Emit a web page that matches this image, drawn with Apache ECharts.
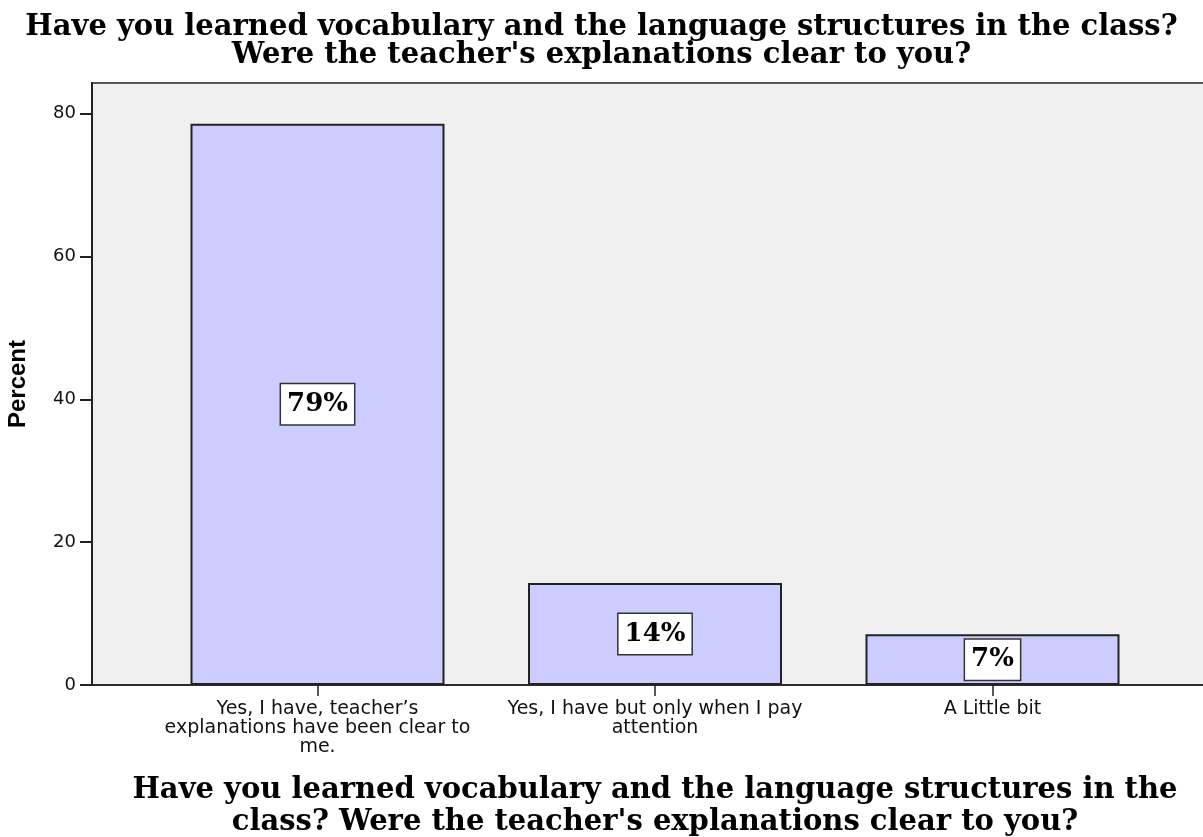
<!DOCTYPE html>
<html>
<head>
<meta charset="utf-8">
<title>Vocabulary survey</title>
<script src="https://cdn.jsdelivr.net/npm/echarts@6/dist/echarts.min.js"></script>
<style>
  html, body { margin: 0; padding: 0; background: #fff; }
  #main { width: 1203px; height: 837px; }
</style>
</head>
<body>
<div id="main"></div>
<script>
// data (n = 14 answers)
var categories = [
	"Yes, I have, teacher\u2019s\nexplanations have been clear to\nme.",
	"Yes, I have but only when I pay\nattention",
	"A Little bit"
];
var percents = [78.6, 14.3, 7.1];
var pctLabels = ["79%", "14%", "7%"];
var yTicks = [0, 20, 40, 60, 80];

var titleText = "Have you learned vocabulary and the language structures in the class?\nWere the teacher's explanations clear to you?";
var xName = "Have you learned vocabulary and the language structures in the\nclass? Were the teacher's explanations clear to you?";

var yMax = 84.3;   // top of the plot frame

var myChart = echarts.init(document.getElementById('main'));

var option = {
	backgroundColor: '#ffffff',
	animation: false,
	title: {
		text: titleText,
		left: 'center',
		top: 8,
		textStyle: {
			fontFamily: 'DejaVu Serif',
			fontWeight: 'bold',
			fontSize: 29,
			lineHeight: 28,
			color: '#000',
			align: 'center'
		}
	},
	grid: [
		// frame, background and y axis
		{ left: 92, right: -6, top: 83, bottom: 152, show: true, outerBoundsMode: 'none',
		  backgroundColor: '#f0f0f0', borderColor: '#555', borderWidth: 2 },
		// bars (SPSS leaves extra room on the left)
		{ left: 148.75, right: 41.75, top: 83, bottom: 152, outerBoundsMode: 'none' }
	],
	xAxis: [
		{
			gridIndex: 0, type: 'value', min: 0, max: 1,
			axisLine: { show: true, lineStyle: { color: '#222', width: 1.5 } },
			axisTick: { show: false },
			axisLabel: { show: false },
			splitLine: { show: false }
		},
		{
			gridIndex: 1, type: 'category', data: categories,
			axisLine: { show: false },
			axisTick: { show: true, alignWithLabel: true, length: 11,
				lineStyle: { color: '#222', width: 1.5 } },
			axisLabel: {
				interval: 0,
				margin: 15,
				fontFamily: 'DejaVu Sans',
				fontSize: 19,
				lineHeight: 19,
				color: '#111',
				align: 'center'
			},
			name: xName,
			nameLocation: 'middle',
			nameGap: 89,
			nameTextStyle: {
				fontFamily: 'DejaVu Serif',
				fontWeight: 'bold',
				fontSize: 29,
				lineHeight: 32,
				color: '#000',
				align: 'center'
			}
		}
	],
	yAxis: [
		{
			gridIndex: 0, type: 'value', min: 0, max: yMax, interval: 20,
			name: 'Percent',
			nameLocation: 'middle',
			nameGap: 62,
			nameTextStyle: {
				fontFamily: 'Liberation Sans',
				fontWeight: 'bold',
				fontSize: 24,
				color: '#000'
			},
			axisLine: { show: true, lineStyle: { color: '#222', width: 2 } },
			axisTick: { show: true, length: 12, customValues: yTicks,
				lineStyle: { color: '#222', width: 2 } },
			axisLabel: {
				customValues: yTicks,
				margin: 16,
				fontFamily: 'DejaVu Sans',
				fontSize: 18,
				color: '#111'
			},
			splitLine: { show: false }
		},
		{
			gridIndex: 1, type: 'value', min: 0, max: yMax, show: false,
			splitLine: { show: false }
		}
	],
	series: [
		{
			name: 'Percent',
			type: 'bar',
			xAxisIndex: 1,
			yAxisIndex: 1,
			barWidth: 254,
			data: percents,
			itemStyle: {
				color: '#ccccff',
				borderColor: '#222',
				borderWidth: 2
			},
			label: {
				show: true,
				position: 'inside',
				formatter: function (p) { return pctLabels[p.dataIndex]; },
				fontFamily: 'DejaVu Serif',
				fontWeight: 'bold',
				fontSize: 26,
				lineHeight: 28,
				color: '#000',
				backgroundColor: '#fff',
				borderColor: '#333',
				borderWidth: 1.5,
				padding: [7, 6, 5, 6]
			}
		}
	]
};

myChart.setOption(option);
</script>
</body>
</html>
